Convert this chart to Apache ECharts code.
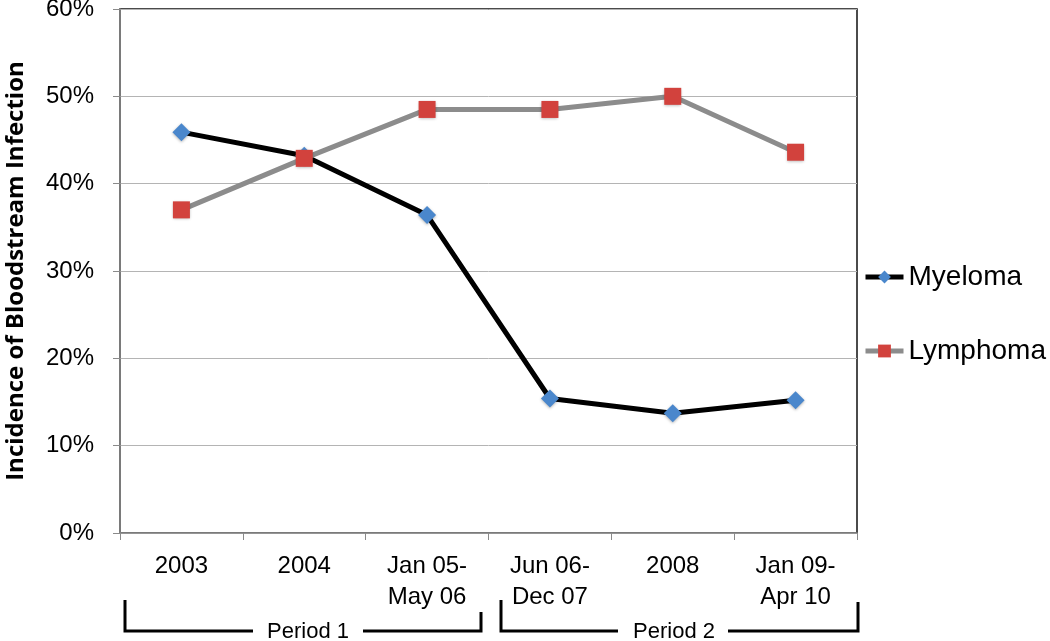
<!DOCTYPE html>
<html>
<head>
<meta charset="utf-8">
<script src="https://cdn.jsdelivr.net/npm/echarts@6/dist/echarts.min.js"></script>
<style>html,body{margin:0;padding:0;background:#fff;}#c{width:1050px;height:641px;}</style>
</head>
<body>
<div id="c"></div>
<script>
const categories = ['2003', '2004', 'Jan 05-\nMay 06', 'Jun 06-\nDec 07', '2008', 'Jan 09-\nApr 10'];
const myeloma = [45.9, 43.2, 36.4, 15.4, 13.7, 15.2];
const lymphoma = [37.0, 42.9, 48.5, 48.5, 50.0, 43.6];
const yTicks = [0, 10, 20, 30, 40, 50, 60];
const periods = ['Period 1', 'Period 2'];

const chart = echarts.init(document.getElementById('c'), null, {renderer: 'canvas'});
const font = '"Liberation Sans", Arial, sans-serif';
chart.setOption({
  animation: false,
  backgroundColor: '#fff',
  textStyle: {fontFamily: font},
  grid: {left: 120, right: 193, top: 9, bottom: 108, outerBoundsMode: 'none', containLabel: false,
    show: true, borderColor: '#111', borderWidth: 1.5, backgroundColor: 'transparent'},
  legend: {
    orient: 'vertical', left: 863, top: 263, itemGap: 46, padding: 0,
    itemWidth: 38, itemHeight: 16,
    lineStyle: {width: 5},
    textStyle: {fontSize: 28, color: '#000', fontFamily: font},
    data: ['Myeloma', 'Lymphoma']
  },
  xAxis: {
    type: 'category', data: categories, boundaryGap: true,
    axisLine: {lineStyle: {color: '#8a8a8a', width: 1.5}},
    axisTick: {show: true, length: 7, lineStyle: {color: '#8a8a8a'}},
    axisLabel: {fontSize: 24, color: '#000', lineHeight: 31, margin: 18, fontFamily: font, interval: 0}
  },
  yAxis: {
    type: 'value', min: 0, max: 60, interval: 10,
    name: 'Incidence of Bloodstream Infection', nameLocation: 'middle', nameGap: 92,
    nameTextStyle: {fontSize: 24, fontWeight: 'bold', color: '#000', fontFamily: '"Open Sans", sans-serif'},
    axisLine: {show: true, lineStyle: {color: '#8a8a8a', width: 1.5}},
    axisTick: {show: true, length: 7, lineStyle: {color: '#8a8a8a'}},
    splitLine: {lineStyle: {color: '#b4b4b4', width: 1}},
    axisLabel: {fontSize: 24, color: '#000', margin: 26, fontFamily: font,
      formatter: v => yTicks.includes(v) ? v + '%' : ''}
  },
  series: [
    {
      name: 'Myeloma', type: 'line', data: myeloma,
      symbol: 'diamond', symbolSize: 18,
      lineStyle: {color: '#000', width: 5},
      itemStyle: {color: '#4a87cc', shadowColor: 'rgba(0,0,0,0.3)', shadowBlur: 3, shadowOffsetY: 1},
      z: 2
    },
    {
      name: 'Lymphoma', type: 'line', data: lymphoma,
      symbol: 'rect', symbolSize: 17,
      lineStyle: {color: '#8c8c8c', width: 5},
      itemStyle: {color: '#d2423d', shadowColor: 'rgba(0,0,0,0.3)', shadowBlur: 3, shadowOffsetY: 1},
      z: 3
    }
  ],
  graphic: [
    {type: 'polyline', shape: {points: [[125, 600], [125, 631], [253, 631]]}, style: {stroke: '#000', lineWidth: 3, fill: null}},
    {type: 'polyline', shape: {points: [[363, 631], [481, 631], [481, 612]]}, style: {stroke: '#000', lineWidth: 3, fill: null}},
    {type: 'text', x: 308, y: 632, style: {text: periods[0], fontSize: 22, fontFamily: font, fill: '#000', textAlign: 'center', textVerticalAlign: 'middle'}},
    {type: 'polyline', shape: {points: [[501, 600], [501, 631], [618, 631]]}, style: {stroke: '#000', lineWidth: 3, fill: null}},
    {type: 'polyline', shape: {points: [[728, 631], [858, 631], [858, 602]]}, style: {stroke: '#000', lineWidth: 3, fill: null}},
    {type: 'text', x: 674, y: 632, style: {text: periods[1], fontSize: 22, fontFamily: font, fill: '#000', textAlign: 'center', textVerticalAlign: 'middle'}}
  ]
});
</script>
</body>
</html>
